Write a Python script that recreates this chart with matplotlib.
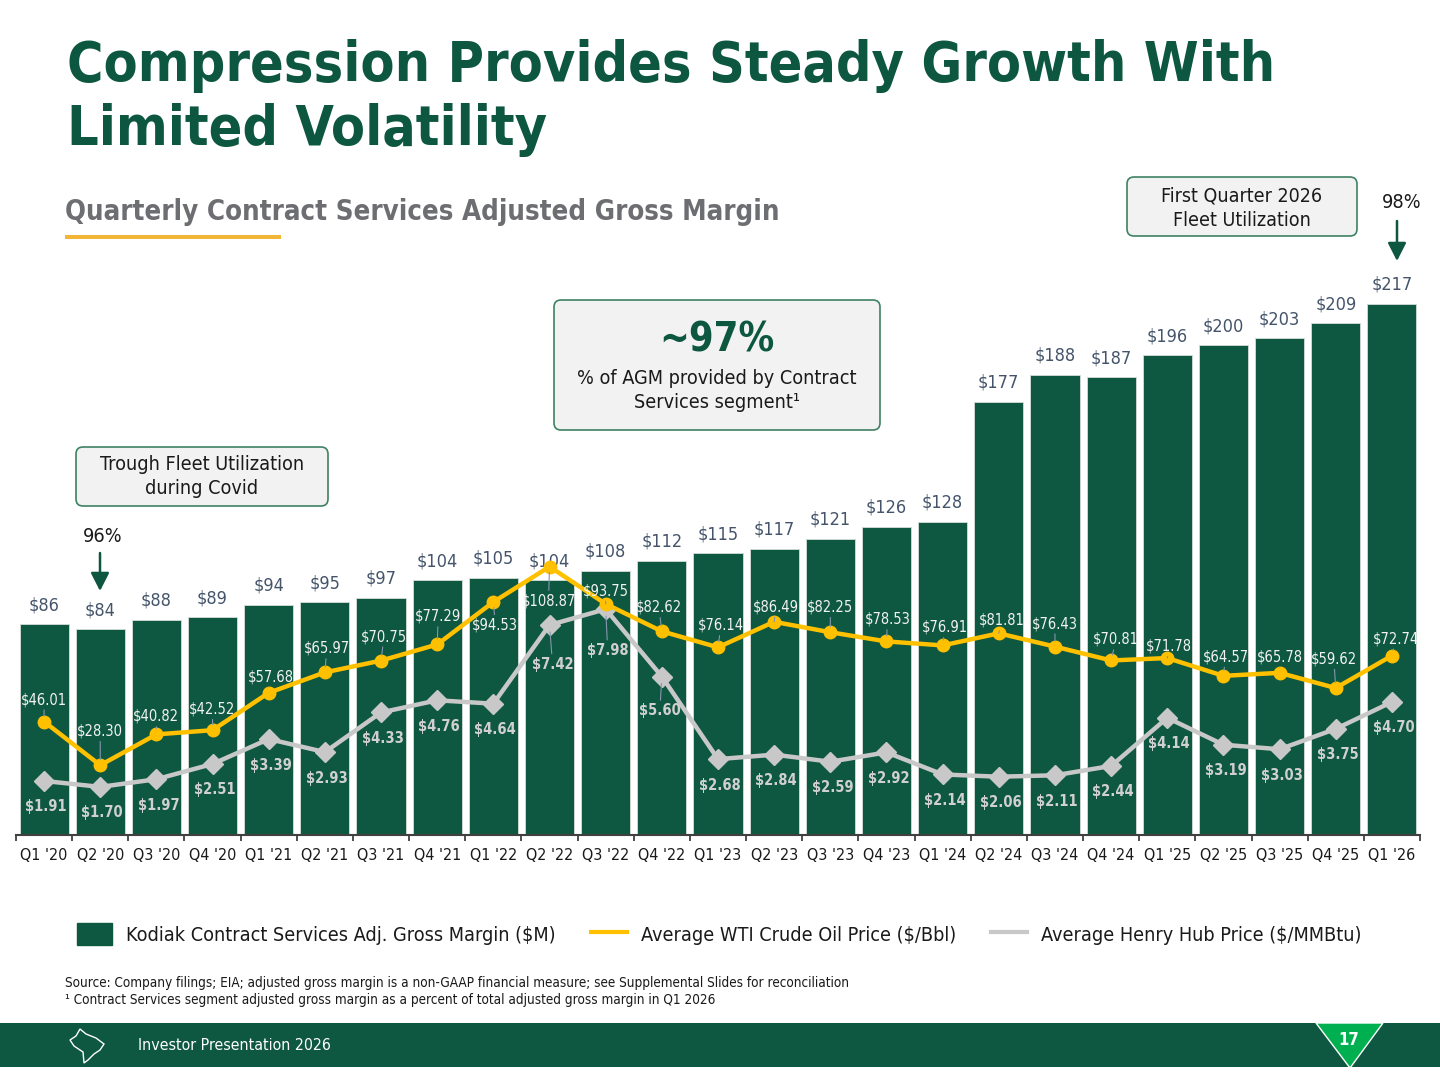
import numpy as np
import matplotlib
matplotlib.use("Agg")
import matplotlib.pyplot as plt
import matplotlib.transforms as mtransforms
from matplotlib.patches import FancyBboxPatch, Rectangle, Polygon, FancyArrowPatch, Patch
from matplotlib.lines import Line2D

plt.rcParams['font.family'] = ['DejaVu Sans']
plt.rcParams['font.stretch'] = 'condensed'

# ---------------- data ----------------
quarters = ["Q1 '20", "Q2 '20", "Q3 '20", "Q4 '20", "Q1 '21", "Q2 '21", "Q3 '21", "Q4 '21",
            "Q1 '22", "Q2 '22", "Q3 '22", "Q4 '22", "Q1 '23", "Q2 '23", "Q3 '23", "Q4 '23",
            "Q1 '24", "Q2 '24", "Q3 '24", "Q4 '24", "Q1 '25", "Q2 '25", "Q3 '25", "Q4 '25", "Q1 '26"]
agm = [86, 84, 88, 89, 94, 95, 97, 104, 105, 104, 108, 112, 115, 117, 121, 126, 128,
       177, 188, 187, 196, 200, 203, 209, 217]
wti = [46.01, 28.30, 40.82, 42.52, 57.68, 65.97, 70.75, 77.29, 94.53, 108.87, 93.75, 82.62,
       76.14, 86.49, 82.25, 78.53, 76.91, 81.81, 76.43, 70.81, 71.78, 64.57, 65.78, 59.62, 72.74]
henry_hub = [1.91, 1.70, 1.97, 2.51, 3.39, 2.93, 4.33, 4.76, 4.64, 7.42, 7.98, 5.60,
             2.68, 2.84, 2.59, 2.92, 2.14, 2.06, 2.11, 2.44, 4.14, 3.19, 3.03, 3.75, 4.70]

legend_labels = ["Kodiak Contract Services Adj. Gross Margin ($M)",
                 "Average WTI Crude Oil Price ($/Bbl)",
                 "Average Henry Hub Price ($/MMBtu)"]

# label offsets (pixels: dx right, dy up) - style only
wti_off = [(0, 22), (0, 34), (0, 18), (0, 21), (2, 16), (2, 24), (3, 24), (1, 28),
           (2, -23), (-1, -34), (0, 13), (-3, 24), (3, 22), (2, 15), (0, 25), (1, 22),
           (2, 18), (3, 13), (0, 23), (5, 21), (2, 12), (2, 19), (0, 16), (-2, 29), (4, 17)]
hh_off = [(2, -26)] * 9 + [(3, -39), (2, -41), (-2, -34)] + [(2, -26)] * 13
hh_leader = [False] * 9 + [True, True, True] + [False] * 13

GREEN = '#0E5740'
YELLOW = '#FFC000'
GREY = '#C8C8C8'

fig = plt.figure(figsize=(14.4, 10.8), dpi=100)
T = mtransforms.Affine2D().scale(1, -1).translate(0, 1080)  # top-left pixel coords

# ---------------- chart ----------------
ax = fig.add_axes([16 / 1440, 245 / 1080, 1404 / 1440, 575 / 1080])
x = np.arange(len(quarters))
ax.bar(x, agm, width=0.875, color=GREEN, edgecolor='#D5DED9', linewidth=0.6, zorder=2)
ax.set_xlim(-0.5, len(quarters) - 0.5)
ax.set_ylim(0, 575 / 2.448)
for s in ['top', 'right', 'left']:
    ax.spines[s].set_visible(False)
ax.spines['bottom'].set_color('#404040')
ax.spines['bottom'].set_linewidth(1.5)
ax.set_yticks([])
ax.set_xticks(x)
ax.set_xticklabels(quarters, fontsize=11.5, color='#1A1A1A')
ax.tick_params(axis='x', which='major', length=0, pad=9)
ax.set_xticks(np.arange(-0.5, len(quarters), 1), minor=True)
ax.tick_params(axis='x', which='minor', length=4, width=1.3, color='#404040', direction='out')

for i, v in enumerate(agm):
    ax.annotate(f"${v}", (i, v), xytext=(0, 19 * 0.72), textcoords='offset points',
                ha='center', va='center', fontsize=13, color='#44546A', zorder=5)

ax_hh = ax.twinx()
ax_hh.set_ylim(0, 575 / 28.3)
ax_hh.set_axis_off()
ax_hh.plot(x, henry_hub, color=GREY, lw=3.2, marker='D', markersize=10, zorder=3)
for i, v in enumerate(henry_hub):
    dx, dy = hh_off[i]
    ap = dict(arrowstyle='-', color='#8496B0', lw=0.8, shrinkA=0, shrinkB=5) if hh_leader[i] else None
    ax_hh.annotate(f"${v:.2f}", (i, v), xytext=(dx * 0.72, dy * 0.72), textcoords='offset points',
                   ha='center', va='center', fontsize=10.5, fontweight='bold', color='#D0D0D0',
                   arrowprops=ap, zorder=4)

ax_wti = ax.twinx()
ax_wti.set_ylim(0, 575 / 2.465)
ax_wti.set_axis_off()
ax_wti.plot(x, wti, color=YELLOW, lw=3.2, marker='o', markersize=9, zorder=3)
for i, v in enumerate(wti):
    dx, dy = wti_off[i]
    ax_wti.annotate(f"${v:.2f}", (i, v), xytext=(dx * 0.72, dy * 0.72), textcoords='offset points',
                    ha='center', va='center', fontsize=10.5, color='#F2F2F2',
                    arrowprops=dict(arrowstyle='-', color='#8496B0', lw=0.8, shrinkA=0, shrinkB=4),
                    zorder=4)

# ---------------- legend ----------------
handles = [Patch(facecolor=GREEN, edgecolor=GREEN),
           Line2D([], [], color=YELLOW, lw=3),
           Line2D([], [], color=GREY, lw=3)]
fig.legend(handles, legend_labels, loc='center', bbox_to_anchor=(719 / 1440, 1 - 934 / 1080),
           ncol=3, frameon=False, fontsize=14.2, handlelength=1.8, handleheight=1.35,
           handletextpad=0.7, columnspacing=1.8, labelcolor='#1A1A1A')

# ---------------- titles ----------------
fig.text(67, 81, "Compression Provides Steady Growth With", transform=T, fontsize=39.9,
         fontweight='bold', color='#0D5740', va='baseline')
fig.text(67, 145, "Limited Volatility", transform=T, fontsize=39.9,
         fontweight='bold', color='#0D5740', va='baseline')
fig.text(65, 220, "Quarterly Contract Services Adjusted Gross Margin", transform=T, fontsize=19.8,
         fontweight='bold', color='#6D6E71', va='baseline')
fig.add_artist(Rectangle((65, 235), 216, 4, transform=T, facecolor='#F2B535', edgecolor='none'))


def box(x0, y0, x1, y1):
    fig.add_artist(FancyBboxPatch((x0, y0), x1 - x0, y1 - y0, boxstyle='round,pad=0,rounding_size=7',
                                  transform=T, facecolor='#F2F2F2', edgecolor='#3F8264', lw=1.2))


def arrow(xa, ya, xb, yb):
    fig.add_artist(FancyArrowPatch((xa, ya), (xb, yb), transform=T, color='#0D5740', lw=1.8,
                                   arrowstyle='-|>,head_width=0.28,head_length=0.55', mutation_scale=20,
                                   shrinkA=0, shrinkB=0))


box(76, 447, 328, 506)
fig.text(202, 465, "Trough Fleet Utilization", transform=T, ha='center', va='center', fontsize=14.2, color='#1A1A1A')
fig.text(202, 489, "during Covid", transform=T, ha='center', va='center', fontsize=14.2, color='#1A1A1A')
fig.text(103, 537, "96%", transform=T, ha='center', va='center', fontsize=14.2, color='#1A1A1A')
arrow(100, 553, 100, 591)

box(554, 300, 880, 430)
fig.text(717, 341, "~97%", transform=T, ha='center', va='center', fontsize=28.5, fontweight='bold', color='#0D5740')
fig.text(717, 379, "% of AGM provided by Contract", transform=T, ha='center', va='center', fontsize=14.2, color='#1A1A1A')
fig.text(717, 403, "Services segment\u00b9", transform=T, ha='center', va='center', fontsize=14.2, color='#1A1A1A')

box(1127, 177, 1357, 236)
fig.text(1242, 196, "First Quarter 2026", transform=T, ha='center', va='center', fontsize=14.1, color='#1A1A1A')
fig.text(1242, 220, "Fleet Utilization", transform=T, ha='center', va='center', fontsize=14.1, color='#1A1A1A')
fig.text(1402, 203, "98%", transform=T, ha='center', va='center', fontsize=14.2, color='#1A1A1A')
arrow(1397, 221, 1397, 261)

# ---------------- footnotes & footer ----------------
fig.text(65, 983, "Source: Company filings; EIA; adjusted gross margin is a non-GAAP financial measure; "
         "see Supplemental Slides for reconciliation", transform=T, va='center', fontsize=9.75, color='#1A1A1A')
fig.text(65, 1000, "\u00b9 Contract Services segment adjusted gross margin as a percent of total adjusted gross margin in Q1 2026",
         transform=T, va='center', fontsize=9.75, color='#1A1A1A')

fig.add_artist(Rectangle((0, 1023), 1440, 44, transform=T, facecolor='#0E5740', edgecolor='none'))
fig.add_artist(Polygon([(1316, 1023), (1383, 1023), (1350, 1068)], closed=True, transform=T,
                       facecolor='#00B050', edgecolor='white', lw=1))
fig.text(1349, 1040, "17", transform=T, ha='center', va='center', fontsize=12, fontweight='bold', color='white')
fig.text(138, 1045, "Investor Presentation 2026", transform=T, va='center', fontsize=11.4, color='white')
logo = [(80, 1029), (86, 1034), (96, 1038), (104, 1044), (100, 1050), (94, 1054), (88, 1060),
        (84, 1063), (83, 1052), (74, 1046), (70, 1040), (76, 1036), (80, 1029)]
fig.add_artist(Polygon(logo, closed=True, transform=T, facecolor='none', edgecolor='white', lw=1))

fig.savefig("out.png", dpi=100)
